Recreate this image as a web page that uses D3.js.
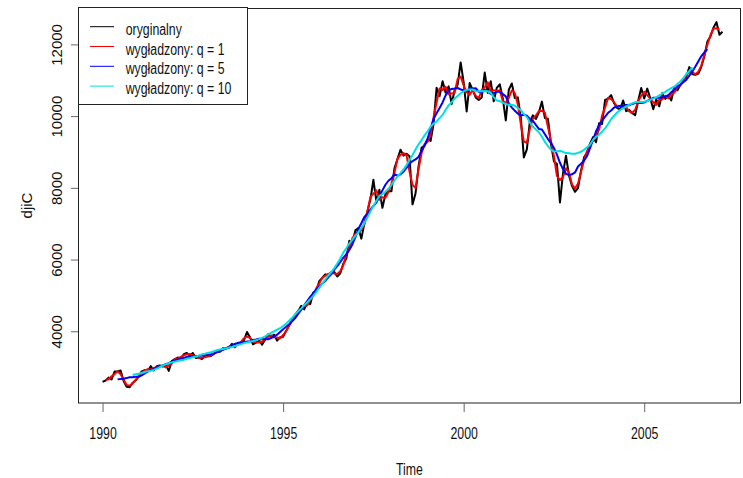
<!DOCTYPE html>
<html>
<head>
<meta charset="utf-8">
<script src="https://cdn.jsdelivr.net/npm/d3@7"></script>
<style>
body { margin: 0; background: #fff; }
text { font-family: "Liberation Sans", Arial, sans-serif; fill: #111; }
</style>
</head>
<body>
<script>
const WIDTH = 743;
const HEIGHT = 478;
const PLOT = {left: 78, right: 741, top: 8, bottom: 403};

// monthly values, Jan 1990 .. Mar 2007
var startYear = 1990;
var djiC = [
  2590.5, 2627.3, 2707.2, 2656.8, 2876.7, 2880.7, 2905.2, 2614.4, 2452.5, 2442.3, 2559.7, 2633.7,
  2736.4, 2882.2, 2913.9, 2887.9, 3027.5, 2906.8, 3024.8, 3043.6, 3016.8, 3069.1, 2894.7, 3168.8,
  3223.4, 3267.7, 3235.5, 3359.1, 3396.9, 3318.5, 3393.8, 3257.4, 3271.7, 3226.3, 3305.2, 3301.1,
  3310.0, 3370.8, 3435.1, 3427.6, 3527.4, 3516.1, 3539.5, 3651.3, 3555.1, 3680.6, 3684.0, 3754.1,
  3978.4, 3832.0, 3636.0, 3681.7, 3758.4, 3625.0, 3764.5, 3913.4, 3843.2, 3908.1, 3739.2, 3834.4,
  3843.9, 4011.1, 4157.7, 4321.3, 4465.1, 4556.1, 4708.5, 4610.6, 4789.1, 4755.5, 5074.5, 5117.1,
  5395.3, 5485.6, 5587.1, 5569.1, 5643.2, 5654.6, 5528.9, 5616.2, 5882.2, 6029.4, 6521.7, 6448.3,
  6813.1, 6877.7, 6583.5, 7009.0, 7331.0, 7672.8, 8222.6, 7622.4, 7945.3, 7442.1, 7823.1, 7908.3,
  7906.5, 8545.7, 8799.8, 9063.4, 8900.0, 8952.0, 8883.3, 7539.1, 7842.6, 8592.1, 9116.6, 9181.4,
  9358.8, 9306.6, 9786.2, 10789.0, 10559.7, 10970.8, 10655.2, 10829.3, 10337.0, 10729.9, 10877.8, 11497.1,
  10940.5, 10128.3, 10921.9, 10733.9, 10522.3, 10447.9, 10522.0, 11215.1, 10650.9, 10971.1, 10414.5, 10786.9,
  10887.4, 10495.3, 9878.8, 10735.0, 10911.9, 10502.4, 10522.8, 9949.8, 8847.6, 9075.1, 9851.6, 10021.5,
  9920.0, 10106.1, 10403.9, 9946.2, 9925.3, 9243.3, 8736.6, 8663.5, 7591.9, 8397.0, 8896.1, 8341.6,
  8053.8, 7891.1, 7992.1, 8480.1, 8850.3, 8985.4, 9233.8, 9415.8, 9275.1, 9801.1, 9782.5, 10453.9,
  10488.1, 10583.9, 10357.7, 10225.6, 10188.5, 10435.5, 10139.7, 10173.9, 10080.3, 10027.5, 10428.0, 10783.0,
  10489.9, 10766.2, 10503.8, 10192.5, 10467.5, 10275.0, 10640.9, 10481.6, 10568.7, 10440.1, 10805.9, 10717.5,
  10864.9, 10993.4, 11109.3, 11367.1, 11168.3, 11150.2, 11185.7, 11381.2, 11679.1, 12080.7, 12221.9, 12463.2,
  12621.7, 12268.6, 12354.4
];
var qList = [1, 5, 10];
var legendLabels = ['oryginalny', 'wygładzony: q = 1', 'wygładzony: q = 5', 'wygładzony: q = 10'];
var lineColors = ['#000000', '#ff0000', '#0000ff', '#00e0e0'];
var xTicks = [1990, 1995, 2000, 2005];
var yTicks = [4000, 6000, 8000, 10000, 12000];

// centred moving average of length 2q+1 (like filter(..., sides = 2))
var smooth = function(values, q) {
    return values.map(function(d, i) {
        if (i < q || i >= values.length - q) return null;
        return d3.mean(values.slice(i - q, i + q + 1));
    });
};

var series = [djiC].concat(qList.map(function(q) { return smooth(djiC, q); }));

var svg = d3.select('body').append('svg')
    .attr('width', WIDTH)
    .attr('height', HEIGHT);

var xScale = d3.scaleLinear()
    .domain([1989.32, 2007.68])
    .range([PLOT.left, PLOT.right]);

var yScale = d3.scaleLinear()
    .domain([2000, 13015])
    .range([PLOT.bottom, PLOT.top]);

var line = d3.line()
    .defined(function(d) { return d != null; })
    .x(function(d, i) { return xScale(startYear + i / 12); })
    .y(function(d) { return yScale(d); });

series.forEach(function(s, k) {
    svg.append('path')
        .datum(s)
        .attr('d', line)
        .attr('fill', 'none')
        .attr('stroke', lineColors[k])
        .attr('stroke-width', 2)
        .attr('stroke-linejoin', 'round');
});

// frame
svg.append('rect')
    .attr('x', PLOT.left + 0.5)
    .attr('y', PLOT.top + 0.5)
    .attr('width', PLOT.right - PLOT.left - 1)
    .attr('height', PLOT.bottom - PLOT.top - 0.5)
    .attr('fill', 'none')
    .attr('stroke', '#222');

// axes
var xAxis = svg.append('g')
    .attr('transform', 'translate(0,' + PLOT.bottom + ')')
    .call(d3.axisBottom(xScale).tickValues(xTicks).tickSize(9).tickFormat(d3.format('d')));
xAxis.select('.domain').remove();
xAxis.selectAll('line').attr('stroke', '#666');
xAxis.selectAll('text')
    .attr('y', 0).attr('dy', 0)
    .attr('transform', 'translate(0,36) scale(0.77,1)')
    .style('font-size', '16px')
    .attr('fill', '#111');

var yAxis = svg.append('g')
    .attr('transform', 'translate(' + PLOT.left + ',0)')
    .call(d3.axisLeft(yScale).tickValues(yTicks).tickSize(7).tickFormat(d3.format('d')));
yAxis.select('.domain').remove();
yAxis.selectAll('line').attr('stroke', '#666');
yAxis.selectAll('text')
    .attr('x', 0).attr('dy', 0)
    .attr('text-anchor', 'middle')
    .attr('transform', 'translate(-16.5,0) rotate(-90)')
    .style('font-size', '15px')
    .attr('fill', '#111');

// axis titles
svg.append('text')
    .attr('transform', 'translate(' + (PLOT.left + PLOT.right) / 2 + ',475) scale(0.77,1)')
    .attr('text-anchor', 'middle')
    .style('font-size', '16px')
    .text('Time');

svg.append('text')
    .attr('transform', 'translate(31.5,' + (PLOT.top + PLOT.bottom) / 2 + ') rotate(-90)')
    .attr('text-anchor', 'middle')
    .style('font-size', '15px')
    .text('djiC');

// legend
var legend = svg.append('g');
legend.append('rect')
    .attr('x', 78.5).attr('y', 7.5)
    .attr('width', 169).attr('height', 97)
    .attr('fill', '#fff')
    .attr('stroke', '#222');

legendLabels.forEach(function(label, i) {
    var y = 26.7 + i * 19.8;
    legend.append('line')
        .attr('x1', 90).attr('x2', 114)
        .attr('y1', y).attr('y2', y)
        .attr('stroke', lineColors[i])
        .attr('stroke-width', 1);
    legend.append('text')
        .attr('transform', 'translate(125.7,' + (y + 8) + ') scale(0.77,1)')
        .style('font-size', '16px')
        .text(label);
});
</script>
</body>
</html>
